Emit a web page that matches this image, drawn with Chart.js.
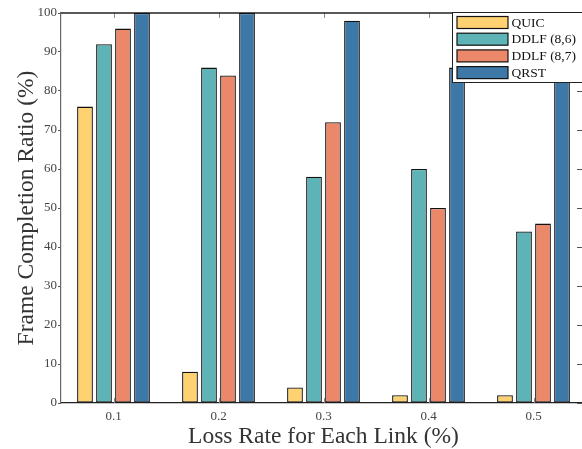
<!DOCTYPE html>
<html>
<head>
<meta charset="utf-8">
<script src="https://cdn.jsdelivr.net/npm/chart.js@4.4.0/dist/chart.umd.min.js"></script>
<style>
  html, body { margin: 0; padding: 0; background: #fff; overflow: hidden; }
  #wrap { width: 590px; height: 449px; }
</style>
</head>
<body>
<div id="wrap"><canvas id="chart" width="590" height="449"></canvas></div>
<script>
// data
const lossRates = ['0.1', '0.2', '0.3', '0.4', '0.5'];
const quic    = [76, 8, 4, 2, 2];
const ddlf86  = [92, 86, 58, 60, 44];
const ddlf87  = [96, 84, 72, 50, 46];
const qrst    = [100, 100, 98, 86, 92];
const seriesNames = ['QUIC', 'DDLF (8,6)', 'DDLF (8,7)', 'QRST'];
const yMin = 0, yMax = 100, yStep = 10;

const SERIF = '"Liberation Serif", "DejaVu Serif", serif';
const colors = ['#FFD271', '#5DB3B5', '#EC886A', '#3E78A7'];

function makeSet(i, values) {
    return {
        label: seriesNames[i],
        data: values,
        backgroundColor: colors[i],
        borderColor: '#111',
        borderWidth: 1.3,
        borderSkipped: false,
        barPercentage: 0.83,
        categoryPercentage: 0.724,
    };
}

// frame ticks + legend box drawn over the bars
const framePlugin = {
    id: 'frame',
    beforeDatasetsDraw(chart) {
        const { ctx, chartArea: a, scales: { x, y } } = chart;
        ctx.save();
        ctx.lineWidth = 1;
        ctx.strokeStyle = '#888';
        const line = (x1, y1, x2, y2) => { ctx.beginPath(); ctx.moveTo(x1, y1); ctx.lineTo(x2, y2); ctx.stroke(); };
        x.ticks.forEach((t, i) => {
            const px = Math.round(x.getPixelForTick(i)) + 0.5;
            line(px, a.top, px, a.top + 5);
            line(px, a.bottom, px, a.bottom - 5);
        });
        ctx.strokeStyle = '#555';
        y.ticks.forEach((t, i) => {
            const py = Math.round(y.getPixelForTick(i)) + 0.5;
            line(a.right - 9, py, a.right, py);
        });
        ctx.strokeStyle = '#222';
        ctx.lineWidth = 1.3;
        line(a.left, a.top, a.right, a.top);
        line(a.right, a.top, a.right, a.bottom);
        ctx.restore();
    },
    afterDraw(chart) {
        const { ctx, chartArea: a } = chart;
        const bx = a.right - 134, by = a.top - 1, bw = 140, bh = 70;
        ctx.save();
        ctx.fillStyle = '#fff';
        ctx.fillRect(bx, by, bw, bh);
        ctx.strokeStyle = '#222';
        ctx.lineWidth = 1;
        ctx.strokeRect(bx + 0.5, by + 0.5, bw, bh);
        ctx.font = '13.5px ' + SERIF;
        ctx.textBaseline = 'middle';
        chart.data.datasets.forEach((ds, i) => {
            const sy = by + 4.5 + i * 16.7;
            ctx.fillStyle = ds.backgroundColor;
            ctx.fillRect(bx + 5, sy, 51, 12);
            ctx.strokeStyle = '#111';
            ctx.lineWidth = 1.2;
            ctx.strokeRect(bx + 5, sy, 51, 12);
            ctx.fillStyle = '#111';
            ctx.fillText(ds.label, bx + 59.5, sy + 6.5);
        });
        ctx.restore();
    }
};

const ctx = document.getElementById('chart').getContext('2d');
new Chart(ctx, {
    type: 'bar',
    data: {
        labels: lossRates,
        datasets: [makeSet(0, quic), makeSet(1, ddlf86), makeSet(2, ddlf87), makeSet(3, qrst)],
    },
    options: {
        responsive: false,
        animation: false,
        devicePixelRatio: 1,
        layout: { padding: { top: 13, right: 4, left: 0, bottom: 0 } },
        plugins: {
            legend: { display: false },
            tooltip: { enabled: false },
        },
        scales: {
            x: {
                grid: { display: true, drawOnChartArea: false, drawTicks: false },
                border: { color: '#222', width: 1.3 },
                ticks: { color: '#444', font: { family: SERIF, size: 13 }, padding: 6 },
                title: {
                    display: true, text: 'Loss Rate for Each Link (%)', color: '#333',
                    font: { family: SERIF, size: 23.5, lineHeight: 1 }, padding: { top: 0, bottom: 0 },
                },
                afterFit(s) { s.height = 46; },
            },
            y: {
                min: yMin, max: yMax,
                ticks: { stepSize: yStep, color: '#444', font: { family: SERIF, size: 13 }, padding: 1 },
                grid: { drawOnChartArea: false, tickLength: 3, color: '#555' },
                border: { color: '#666', width: 1.2 },
                title: {
                    display: true, text: 'Frame Completion Ratio (%)', color: '#333',
                    font: { family: SERIF, size: 23.5, lineHeight: 1 }, padding: { top: 15, bottom: 0 },
                },
                afterFit(s) { s.width = 61; },
            },
        },
    },
    plugins: [framePlugin],
});
</script>
</body>
</html>
